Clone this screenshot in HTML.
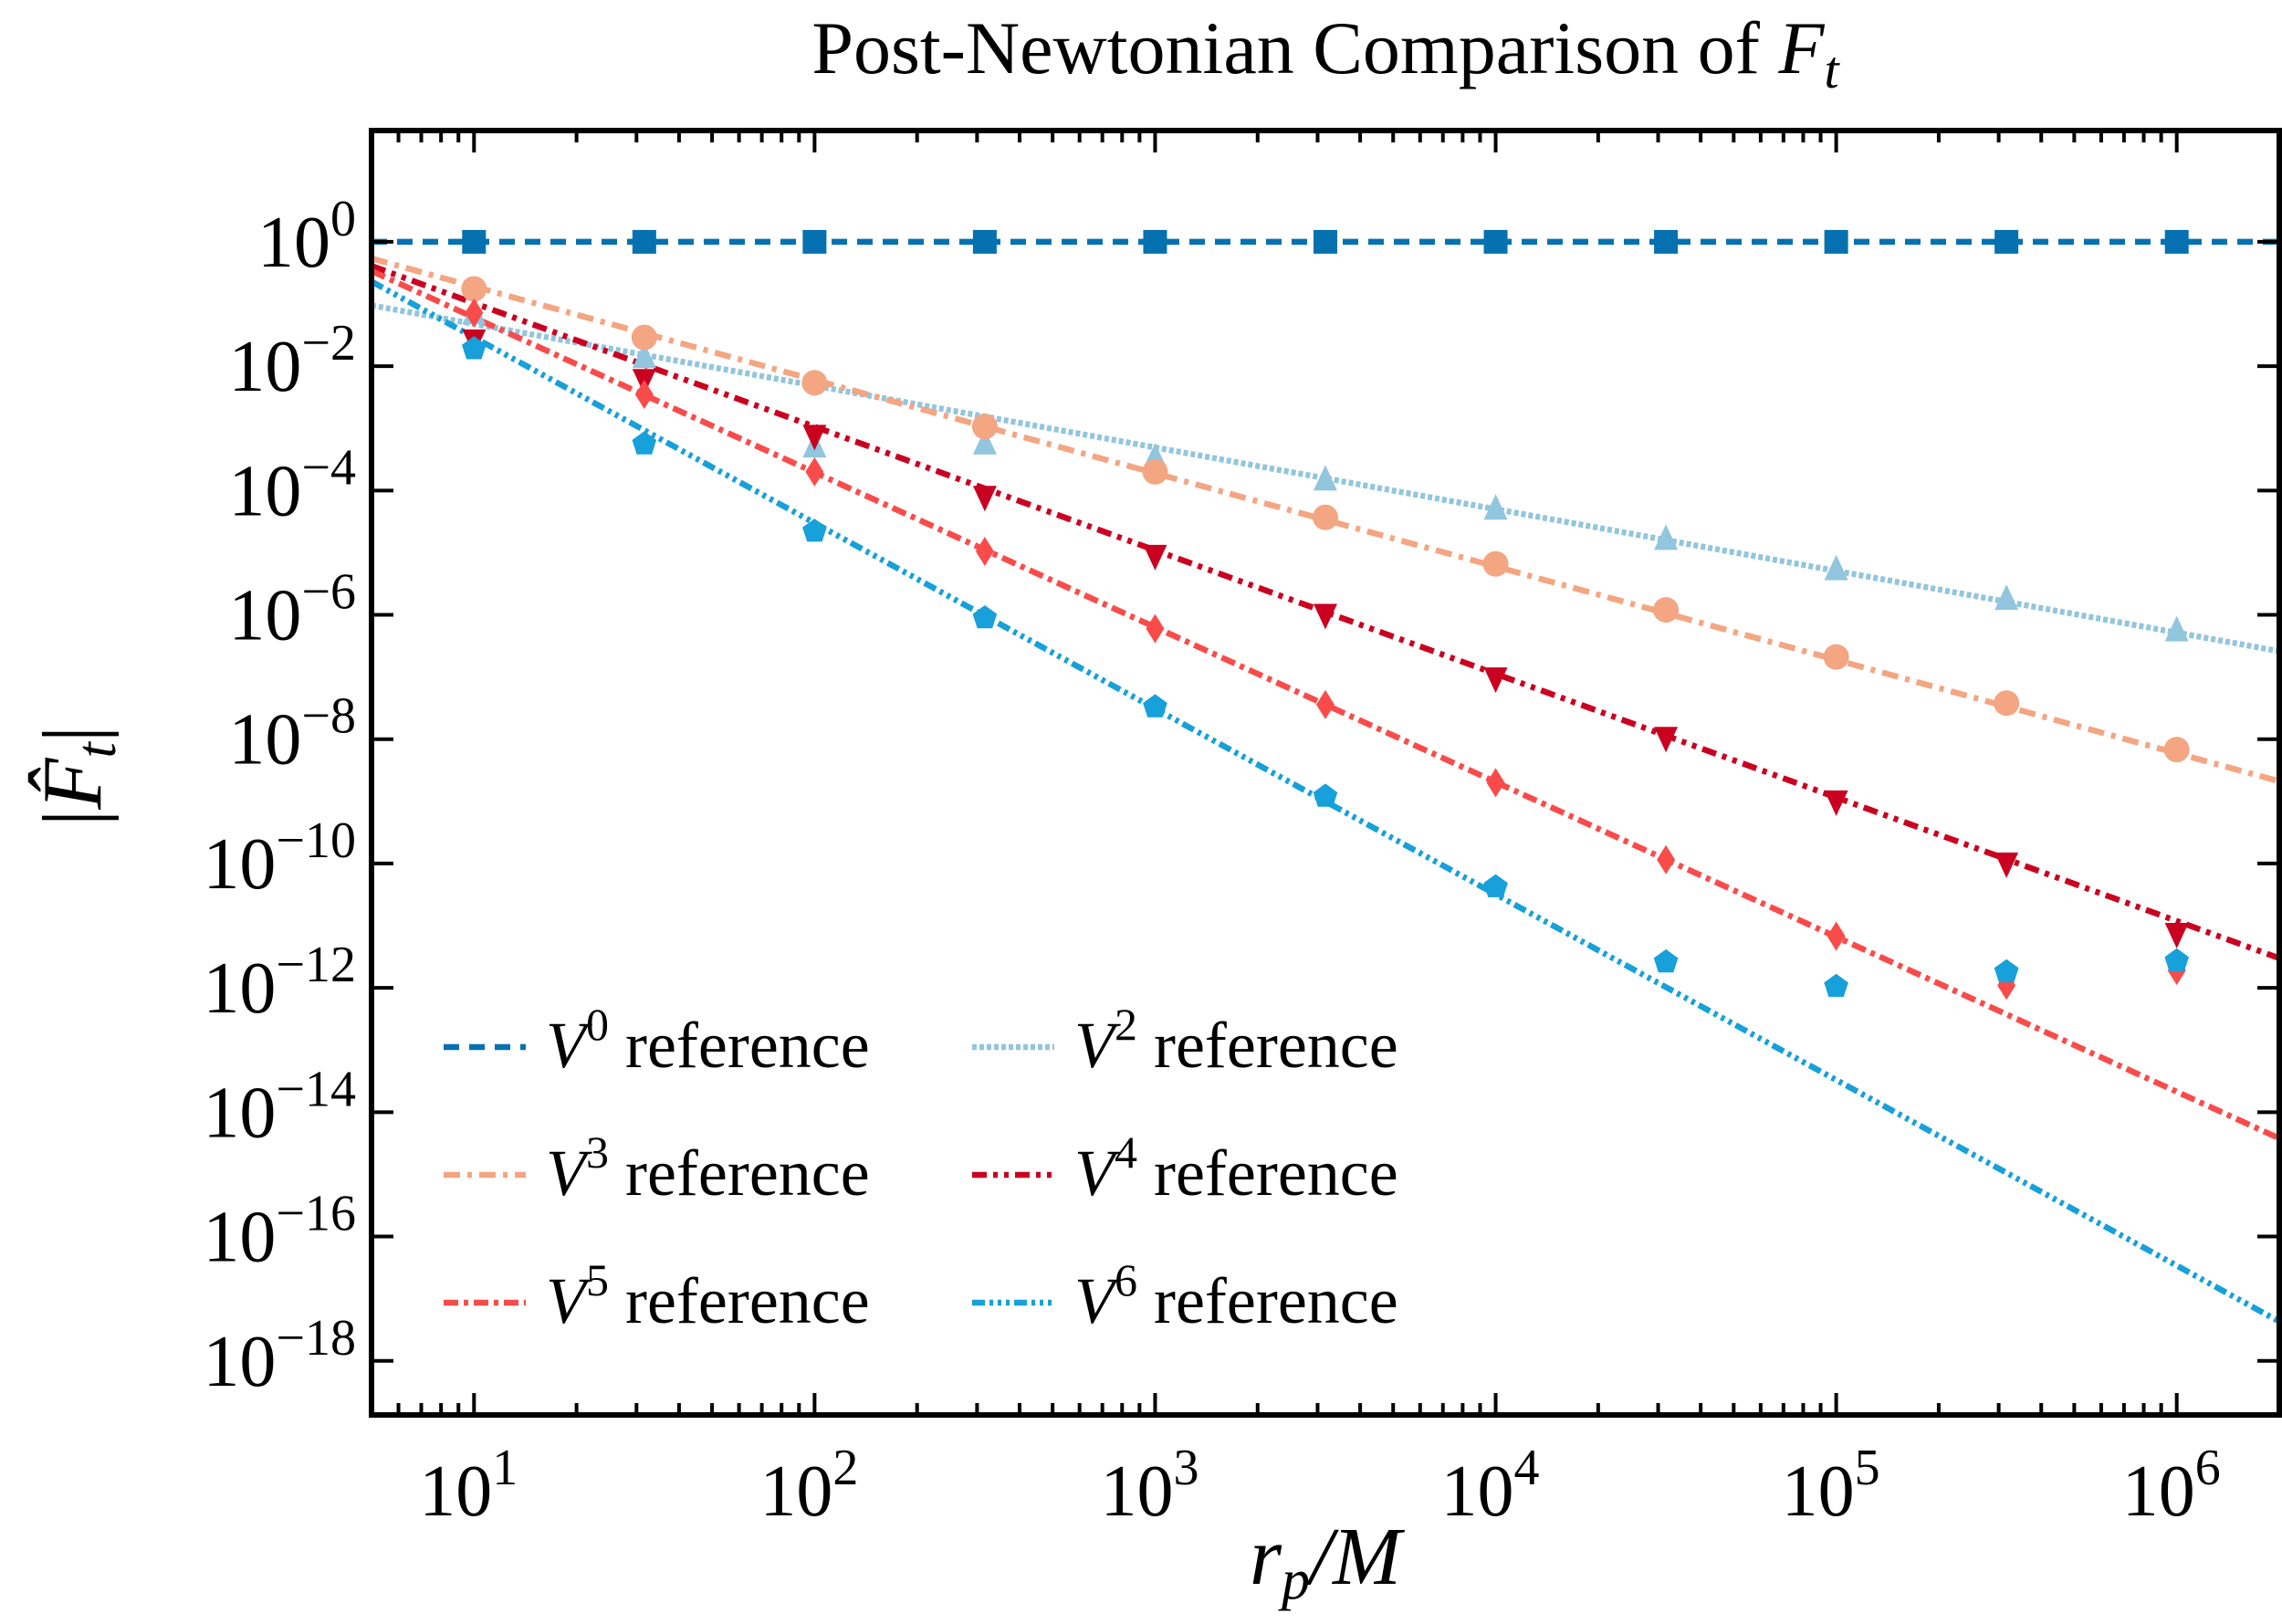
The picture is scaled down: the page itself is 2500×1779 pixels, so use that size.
<!DOCTYPE html>
<html><head><meta charset="utf-8">
<style>
html,body{margin:0;padding:0;background:#fff;}
svg{display:block;}
text{font-family:"Liberation Serif","DejaVu Serif",serif;fill:#000;}
</style></head>
<body>
<svg id="chart" width="2500" height="1779" viewBox="0 0 2500 1779" xmlns="http://www.w3.org/2000/svg">
<rect x="0" y="0" width="2500" height="1779" fill="#fff"/>
<text x="1452" y="80" font-size="82" text-anchor="middle">Post-Newtonian Comparison of <tspan font-style="italic">F</tspan><tspan font-style="italic" font-size="58" dy="16">t</tspan></text>
<g id="plot"></g>
<text x="1452" y="1735" font-size="90" text-anchor="middle" font-style="italic">r<tspan font-size="62" dy="16">p</tspan><tspan dy="-16">/M</tspan></text>
<text transform="translate(110,850) rotate(-90)" font-size="92" text-anchor="middle">|<tspan font-style="italic">F̂</tspan><tspan font-style="italic" font-size="62" dy="16">t</tspan><tspan dy="-16">|</tspan></text>
</svg>
<script>
// ---- data ----
const xPoints = [10, 31.62, 100, 316.2, 1000, 3162, 10000, 31623, 100000, 316228, 1000000];
const lineX = [5, 2000000];
const v0Line = [1, 1];
const v2Line = [0.095, 2.6e-7];
const v3Line = [0.54, 2.1e-9];
const v4Line = [0.41, 3e-12];
const v5Line = [0.34, 3.8e-15];
const v6Line = [0.23, 4.3e-18];
const v0Marks = [1, 1, 1, 1, 1, 1, 1, 1, 1, 1, 1];
const v2Marks = [0.07, 0.014, 5.1e-4, 5.7e-4, 3.4e-4, 1.5e-4, 5.1e-5, 1.66e-5, 5.4e-6, 1.8e-6, 5.6e-7];
const v3Marks = [0.175, 0.029, 5.4e-3, 1.07e-3, 2e-4, 3.7e-5, 6.6e-6, 1.2e-6, 2.1e-7, 3.8e-8, 6.8e-9];
const v4Marks = [0.026, 0.006, 7.6e-4, 7.9e-5, 8.9e-6, 1.0e-6, 9.5e-8, 1.05e-8, 1.0e-9, 1.0e-10, 7.4e-12];
const v5Marks = [0.072, 0.0035, 2e-4, 1.05e-5, 6e-7, 3.6e-8, 2e-9, 1.15e-10, 6.8e-12, 1.1e-12, 1.9e-12];
const v6Marks = [0.019, 5.6e-4, 2.2e-5, 8.9e-7, 3.3e-8, 1.2e-9, 4.2e-11, 2.6e-12, 1.05e-12, 1.8e-12, 2.7e-12];
const xTickExps = [1, 2, 3, 4, 5, 6];
const yTickExps = [0, -2, -4, -6, -8, -10, -12, -14, -16, -18];
const legendLabels = ["0", "2", "3", "4", "5", "6"];

// ---- geometry ----
const L = 407, R = 2497, T = 143, B = 1550;
const xmin = Math.log10(5), xmax = Math.log10(2e6);
const ymin = -18.87, ymax = 1.79;
function sx(v){ return L + (Math.log10(v) - xmin) / (xmax - xmin) * (R - L); }
function sy(v){ return B - (Math.log10(v) - ymin) / (ymax - ymin) * (B - T); }

const NS = "http://www.w3.org/2000/svg";
const plot = document.getElementById("plot");
function mk(tag, attrs, parent){
  const e = document.createElementNS(NS, tag);
  for (const k in attrs) e.setAttribute(k, attrs[k]);
  (parent || plot).appendChild(e);
  return e;
}

const series = [
  {key:"v0", line:v0Line, marks:v0Marks, color:"#0571b0", dash:"17 11", shape:"square"},
  {key:"v2", line:v2Line, marks:v2Marks, color:"#92c5de", dash:"5 3", shape:"triangle-up"},
  {key:"v3", line:v3Line, marks:v3Marks, color:"#f4a582", dash:"18 8 5 8", shape:"circle"},
  {key:"v4", line:v4Line, marks:v4Marks, color:"#ca0020", dash:"16 7 5 7 5 7", shape:"triangle-down"},
  {key:"v5", line:v5Line, marks:v5Marks, color:"#fa4b4b", dash:"16 6 5 6", shape:"diamond"},
  {key:"v6", line:v6Line, marks:v6Marks, color:"#17a0d9", dash:"14 5 4 5 4 5 4 5", shape:"pentagon"}
];

const clip = mk("clipPath", {id:"clipAxes"});
mk("rect", {x:L, y:T, width:R-L, height:B-T}, clip);
const dataG = mk("g", {"clip-path":"url(#clipAxes)"});



function marker(shape, cx, cy, color, parent){
  const s = 13;
  let e;
  if (shape === "square") e = mk("rect", {x:cx-s, y:cy-s, width:2*s, height:2*s, fill:color}, parent);
  else if (shape === "circle") e = mk("ellipse", {cx:cx, cy:cy, rx:s+1, ry:s+1, fill:color}, parent);
  else if (shape === "triangle-up") e = mk("polygon", {points:`${cx},${cy-s-3} ${cx-s},${cy+s-1} ${cx+s},${cy+s-1}`, fill:color}, parent);
  else if (shape === "triangle-down") e = mk("polygon", {points:`${cx},${cy+s+3} ${cx-s},${cy-s+1} ${cx+s},${cy-s+1}`, fill:color}, parent);
  else if (shape === "diamond") e = mk("polygon", {points:`${cx},${cy-s-3} ${cx+s-3},${cy} ${cx},${cy+s+3} ${cx-s+3},${cy}`, fill:color}, parent);
  else {
    const pts = [];
    for (let i=0;i<5;i++){ const a = -Math.PI/2 + i*2*Math.PI/5; pts.push((cx+ (s+1)*Math.cos(a)).toFixed(1)+","+(cy+(s+1)*Math.sin(a)).toFixed(1)); }
    e = mk("polygon", {points:pts.join(" "), fill:color}, parent);
  }
  return e;
}

series.forEach(sr => {
  const ln = mk("line", {x1:sx(lineX[0]), y1:sy(sr.line[0]), x2:sx(lineX[1]), y2:sy(sr.line[1]), stroke:sr.color, "stroke-width":6.5, "stroke-dasharray":sr.dash}, dataG);
  
  
});
series.forEach(sr => {
  sr.marks.forEach((v, i) => {
    const m = marker(sr.shape, sx(xPoints[i]), sy(v), sr.color, dataG);
    
    
  });
});

// ticks
const tickG = mk("g", {stroke:"#000", "stroke-width":4});


for (let d = 0; d <= 6; d++){
  for (let m = 1; m <= 9; m++){
    const v = m * Math.pow(10, d);
    if (v < 5 || v > 2e6) continue;
    const x = sx(v), len = (m === 1) ? 24 : 13;
    mk("line", {x1:x, y1:B, x2:x, y2:B-len}, tickG);
    mk("line", {x1:x, y1:T, x2:x, y2:T+len}, tickG);
  }
}
yTickExps.forEach(e => {
  const y = sy(Math.pow(10, e));
  mk("line", {x1:L, y1:y, x2:L+24, y2:y}, tickG);
  mk("line", {x1:R, y1:y, x2:R-24, y2:y}, tickG);
});

// frame
const frame = mk("rect", {x:L, y:T, width:R-L, height:B-T, fill:"none", stroke:"#000", "stroke-width":6});



// tick labels
xTickExps.forEach(e => {
  const t = mk("text", {x:sx(Math.pow(10, e)) - 6, y:1660, "font-size":80, "text-anchor":"middle"});
  
  
  t.innerHTML = '10<tspan font-size="56" dy="-34">' + e + '</tspan>';
});
yTickExps.forEach(e => {
  const t = mk("text", {x:390, y:sy(Math.pow(10, e)) + 27, "font-size":80, "text-anchor":"end"});
  
  
  t.innerHTML = '10<tspan font-size="56" dy="-34">' + (e < 0 ? '−' + (-e) : e) + '</tspan>';
});

// legend
const legG = mk("g", {});


const colX = [486, 1065], rowY = [1147, 1287, 1427];
series.forEach((sr, i) => {
  const lx = colX[i % 2], ly = rowY[Math.floor(i / 2)];
  const g = mk("g", {}, legG);
  
  
  mk("line", {x1:lx, y1:ly, x2:lx+90, y2:ly, stroke:sr.color, "stroke-width":6.5, "stroke-dasharray":sr.dash}, g);
  const t = mk("text", {x:lx+112, y:ly+22, "font-size":72}, g);
  t.innerHTML = '<tspan font-style="italic">V</tspan><tspan font-size="50" dy="-30">' + legendLabels[i] + '</tspan><tspan dy="30"> reference</tspan>';
});
</script>
</body></html>
